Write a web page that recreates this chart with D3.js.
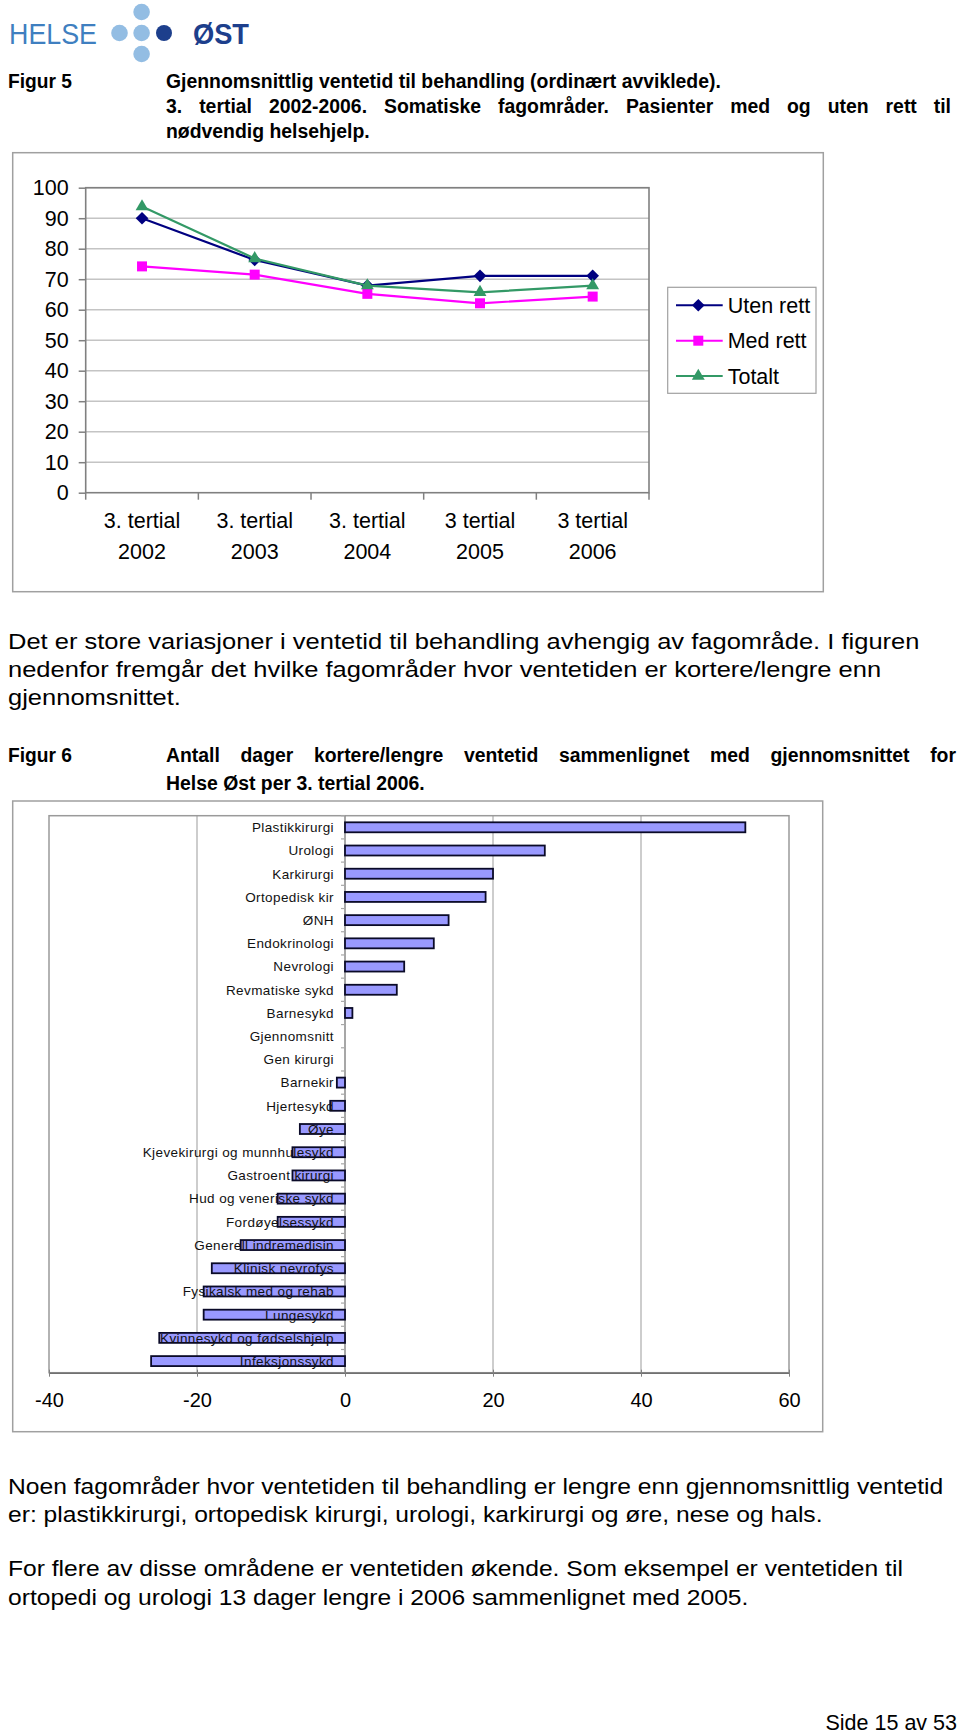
<!DOCTYPE html>
<html><head><meta charset="utf-8">
<script src="https://cdn.jsdelivr.net/npm/d3@7"></script>
<style>body{margin:0;background:#fff} svg{display:block}</style>
</head><body>
<script>
// ---------- data ----------
const periods = ["3. tertial|2002", "3. tertial|2003", "3. tertial|2004", "3 tertial|2005", "3 tertial|2006"];
const seriesNames = ["Uten rett", "Med rett", "Totalt"];
const utenRett = [90.0, 76.3, 67.9, 71.1, 71.1];
const medRett  = [74.2, 71.5, 65.2, 62.1, 64.3];
const totalt   = [93.8, 76.8, 67.9, 65.7, 67.9];
const yTicks1 = [0, 10, 20, 30, 40, 50, 60, 70, 80, 90, 100];

const fagomrader = ["Plastikkirurgi", "Urologi", "Karkirurgi", "Ortopedisk kir", "ØNH", "Endokrinologi",
  "Nevrologi", "Revmatiske sykd", "Barnesykd", "Gjennomsnitt", "Gen kirurgi", "Barnekir", "Hjertesykd",
  "Øye", "Kjevekirurgi og munnhulesykd", "Gastroent kirurgi", "Hud og veneriske sykd", "Fordøyelsessykd",
  "Generell indremedisin", "Klinisk nevrofys", "Fysikalsk med og rehab", "Lungesykd",
  "Kvinnesykd og fødselshjelp", "Infeksjonssykd"];
const dagerDiff = [54.1, 27.0, 20.0, 19.0, 14.0, 12.0, 8.0, 7.0, 1.0, 0, 0, -1.1, -2.0,
  -6.1, -7.1, -7.1, -9.1, -9.1, -14.1, -18.0, -19.1, -19.1, -25.1, -26.2];
const xTicks2 = [-40, -20, 0, 20, 40, 60];

const para1 = ["Det er store variasjoner i ventetid til behandling avhengig av fagområde. I figuren",
  "nedenfor fremgår det hvilke fagområder hvor ventetiden er kortere/lengre enn",
  "gjennomsnittet."];
const para2 = ["Noen fagområder hvor ventetiden til behandling er lengre enn gjennomsnittlig ventetid",
  "er: plastikkirurgi, ortopedisk kirurgi, urologi, karkirurgi og øre, nese og hals."];
const para3 = ["For flere av disse områdene er ventetiden økende. Som eksempel er ventetiden til",
  "ortopedi og urologi 13 dager lengre i 2006 sammenlignet med 2005."];
const fig5Title = ["Gjennomsnittlig ventetid til behandling (ordinært avviklede).",
  "3. tertial 2002-2006. Somatiske fagområder. Pasienter med og uten rett til",
  "nødvendig helsehjelp."];
const fig6Title = ["Antall dager kortere/lengre ventetid sammenlignet med gjennomsnittet for",
  "Helse Øst per 3. tertial 2006."];

// ---------- page ----------
const FONT = "'Liberation Sans', Arial, Helvetica, sans-serif";
const svg = d3.select("body").append("svg")
  .attr("width", 960).attr("height", 1734)
  .style("font-family", FONT);

// logo
const logo = svg.append("g");
logo.append("text").attr("x", 9).attr("y", 44).attr("font-size", 30)
  .attr("fill", "#3f7fc0").attr("textLength", 88).attr("lengthAdjust", "spacingAndGlyphs")
  .text("HELSE");
[[141.6, 12], [119.5, 33], [141.6, 33], [141.6, 54]].forEach(p =>
  logo.append("circle").attr("cx", p[0]).attr("cy", p[1]).attr("r", 8.3).attr("fill", "#93bde3"));
logo.append("circle").attr("cx", 164).attr("cy", 33).attr("r", 8).attr("fill", "#1d3f8c");
logo.append("text").attr("x", 193).attr("y", 44).attr("font-size", 30).attr("font-weight", "bold")
  .attr("fill", "#1d3f8c").attr("textLength", 56).attr("lengthAdjust", "spacingAndGlyphs")
  .text("ØST");

// headings (justified lines get extra word spacing, as in the reference)
function heading(label, lines, y0, lh, justify) {
  const g = svg.append("g").attr("font-weight", "bold").attr("fill", "#000");
  g.append("text").attr("x", 8).attr("y", y0).attr("font-size", 20.5)
    .attr("textLength", 64).attr("lengthAdjust", "spacingAndGlyphs").text(label);
  lines.forEach((l, i) => {
    const t = g.append("text").attr("x", 166).attr("y", y0 + i * lh).attr("font-size", 19.4).text(l);
    if (justify[i]) {
      const natural = t.node().getComputedTextLength();
      const spaces = (l.match(/ /g) || []).length;
      t.attr("word-spacing", Math.max(0, (justify[i] - natural) / spaces));
    }
  });
}
heading("Figur 5", fig5Title, 88, 24.8, [0, 785, 0]);
heading("Figur 6", fig6Title, 762, 28, [790, 0]);

// body paragraphs (horizontally stretched like the reference)
function para(lines, y0, lh, firstWidth) {
  const ts = lines.map((l, i) => svg.append("text").attr("font-size", 21.5).attr("fill", "#000")
    .attr("data-y", y0 + i * lh).text(l));
  const k = firstWidth / ts[0].node().getComputedTextLength();
  ts.forEach(t => t.attr("transform", `translate(8,${t.attr("data-y")}) scale(${k},1)`));
}
para(para1, 649, 28, 912);
para(para2, 1494, 28, 936);
para(para3, 1576, 29, 895);
svg.append("text").attr("x", 957).attr("y", 1730).attr("text-anchor", "end").attr("font-size", 21.5)
  .text("Side 15 av 53");

// ---------- Figure 5: line chart ----------
const c1 = svg.append("g");
c1.append("rect").attr("x", 12.7).attr("y", 152.7).attr("width", 810.6).attr("height", 439)
  .attr("fill", "none").attr("stroke", "#a0a0a0").attr("stroke-width", 1.5);

const x1 = d3.scaleBand().domain(d3.range(periods.length)).range([85.7, 649]);
const y1 = d3.scaleLinear().domain([0, 100]).range([492.7, 187.7]);

c1.append("g").selectAll("line").data(yTicks1.filter(d => d > 0)).join("line")
  .attr("x1", 85.7).attr("x2", 649).attr("y1", d => y1(d)).attr("y2", d => y1(d))
  .attr("stroke", "#c4c4c4").attr("stroke-width", 1.5);
c1.append("rect").attr("x", 85.7).attr("y", y1(100)).attr("width", 649 - 85.7).attr("height", y1(0) - y1(100))
  .attr("fill", "none").attr("stroke", "#808080").attr("stroke-width", 1.6);

const ya = c1.append("g").attr("transform", "translate(85.7,0)")
  .call(d3.axisLeft(y1).tickValues(yTicks1).tickSize(7).tickPadding(10));
ya.select(".domain").remove();
ya.selectAll(".tick line").attr("stroke", "#808080").attr("stroke-width", 1.5);
ya.selectAll(".tick text").attr("font-size", 21.5).attr("font-family", FONT).attr("fill", "#000");

const xa = c1.append("g").attr("transform", `translate(0,${y1(0)})`)
  .call(d3.axisBottom(x1).tickSize(0));
xa.select(".domain").remove();
xa.selectAll(".tick text").attr("font-size", 21.5).attr("font-family", FONT).attr("fill", "#000")
  .attr("dy", null).attr("y", null)
  .each(function (i) {
    const parts = periods[i].split("|");
    const el = d3.select(this).text(null);
    el.append("tspan").attr("x", 0).attr("y", 35).text(parts[0]);
    el.append("tspan").attr("x", 0).attr("y", 66).text(parts[1]);
  });
xa.selectAll("line.bound").data(d3.range(periods.length + 1)).join("line").attr("class", "bound")
  .attr("x1", i => x1.range()[0] + i * x1.step()).attr("x2", i => x1.range()[0] + i * x1.step())
  .attr("y1", 0).attr("y2", 7).attr("stroke", "#808080").attr("stroke-width", 1.5);

const series = [
  {name: seriesNames[0], values: utenRett, color: "#000080", symbol: "diamond"},
  {name: seriesNames[1], values: medRett, color: "#ff00ff", symbol: "square"},
  {name: seriesNames[2], values: totalt, color: "#339966", symbol: "triangle"}
];
const cx = i => x1(i) + x1.bandwidth() / 2;
function marker(sel, s) {
  if (s.symbol === "diamond") sel.attr("d", d3.symbol(d3.symbolSquare, 80)());
  else if (s.symbol === "square") sel.attr("d", d3.symbol(d3.symbolSquare, 100)());
  else sel.attr("d", d3.symbol(d3.symbolTriangle, 72)());
}
const lineGen = d3.line().x((d, i) => cx(i)).y(d => y1(d));
series.forEach(s => {
  c1.append("path").datum(s.values).attr("d", lineGen).attr("fill", "none")
    .attr("stroke", s.color).attr("stroke-width", 2.2);
  c1.append("g").selectAll("path").data(s.values).join("path")
    .call(sel => marker(sel, s))
    .attr("transform", (d, i) => `translate(${cx(i)},${y1(d)})` + (s.symbol === "diamond" ? " rotate(45)" : ""))
    .attr("fill", s.color);
});

// legend
const lg = c1.append("g");
lg.append("rect").attr("x", 667.7).attr("y", 287.3).attr("width", 148.3).attr("height", 106)
  .attr("fill", "#fff").attr("stroke", "#a0a0a0").attr("stroke-width", 1.2);
series.forEach((s, i) => {
  const yy = 305.3 + i * 35.4;
  lg.append("line").attr("x1", 676).attr("x2", 722.7).attr("y1", yy).attr("y2", yy)
    .attr("stroke", s.color).attr("stroke-width", 2);
  lg.append("path").call(sel => marker(sel, s))
    .attr("transform", `translate(698.3,${yy})` + (s.symbol === "diamond" ? " rotate(45)" : ""))
    .attr("fill", s.color);
  lg.append("text").attr("x", 727.7).attr("y", yy).attr("dy", "0.36em").attr("font-size", 21.5)
    .attr("fill", "#000").text(s.name);
});

// ---------- Figure 6: bar chart ----------
const c2 = svg.append("g");
c2.append("rect").attr("x", 12.7).attr("y", 801).attr("width", 810).attr("height", 630.7)
  .attr("fill", "none").attr("stroke", "#a0a0a0").attr("stroke-width", 1.5);

const xb = d3.scaleLinear().domain([-40, 60]).range([49, 789]);
const yb = d3.scaleBand().domain(fagomrader).range([815.7, 1372.7]).paddingInner(0.57).paddingOuter(0.285);
const pTop = 815.7, pBot = 1372.7;

c2.append("g").selectAll("line").data(xTicks2.filter(d => d !== 0 && d !== -40 && d !== 60)).join("line")
  .attr("x1", d => xb(d)).attr("x2", d => xb(d)).attr("y1", pTop).attr("y2", pBot)
  .attr("stroke", "#bdbdbd").attr("stroke-width", 1.5);
c2.append("rect").attr("x", xb(-40)).attr("y", pTop).attr("width", xb(60) - xb(-40)).attr("height", pBot - pTop)
  .attr("fill", "none").attr("stroke", "#9a9a9a").attr("stroke-width", 1.5);

// category axis at zero
c2.append("line").attr("x1", xb(0)).attr("x2", xb(0)).attr("y1", pTop).attr("y2", pBot)
  .attr("stroke", "#8a8a8a").attr("stroke-width", 1.5);
c2.append("g").selectAll("line").data(d3.range(fagomrader.length + 1)).join("line")
  .attr("x1", xb(0) - 4).attr("x2", xb(0))
  .attr("y1", i => pTop + i * yb.step()).attr("y2", i => pTop + i * yb.step())
  .attr("stroke", "#a8a8a8").attr("stroke-width", 1.2);

const xba = c2.append("g").attr("transform", `translate(0,${pBot})`)
  .call(d3.axisBottom(xb).tickValues(xTicks2).tickFormat(d => String(d))
    .tickSize(4).tickSizeOuter(0).tickPadding(16));
xba.select(".domain").attr("stroke", "#707070").attr("stroke-width", 1.6);
xba.selectAll(".tick line").attr("stroke", "#808080").attr("y1", -3);
xba.selectAll(".tick text").attr("font-size", 20).attr("font-family", FONT).attr("fill", "#000");

const barData = fagomrader.map((f, i) => ({f, v: dagerDiff[i]})).filter(d => d.v !== 0);
c2.append("g").selectAll("rect").data(barData).join("rect")
  .attr("x", d => xb(Math.min(0, d.v))).attr("width", d => Math.abs(xb(d.v) - xb(0)))
  .attr("y", d => yb(d.f)).attr("height", yb.bandwidth())
  .attr("fill", "#9999ff").attr("stroke", "#0a0a28").attr("stroke-width", 1.8);

c2.append("g").selectAll("text").data(fagomrader).join("text")
  .attr("x", 334).attr("y", d => yb(d) + yb.bandwidth() / 2).attr("dy", "0.36em")
  .attr("text-anchor", "end").attr("font-size", 13.5).attr("letter-spacing", 0.4)
  .attr("fill", "#111").text(d => d);
</script>
</body></html>
